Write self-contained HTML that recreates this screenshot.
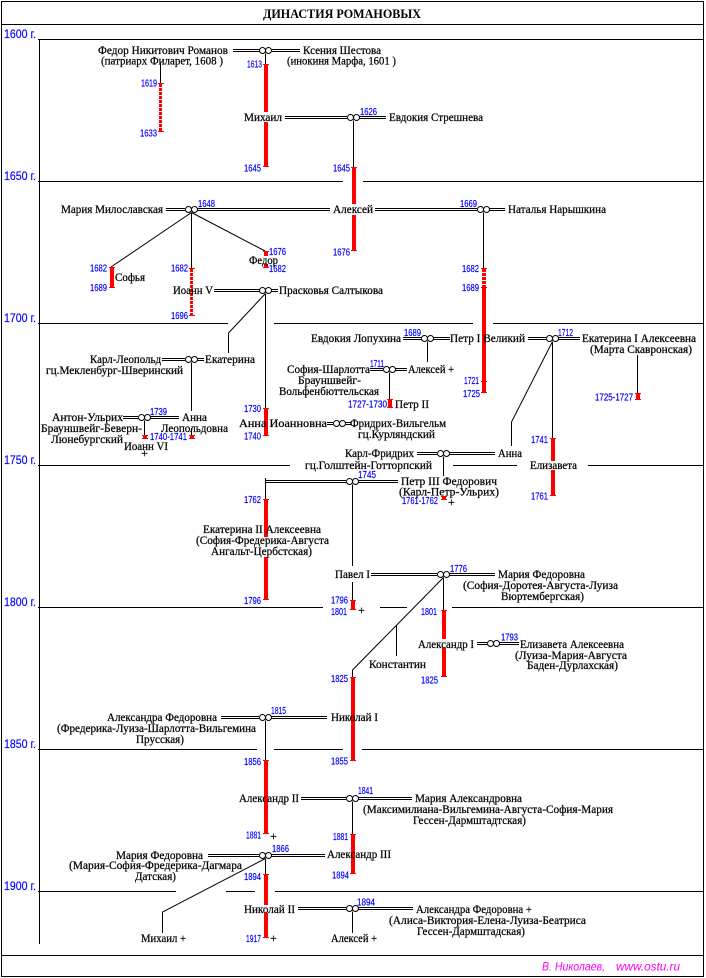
<!DOCTYPE html>
<html><head><meta charset="utf-8"><style>
html,body{margin:0;padding:0;background:#fff;width:706px;height:978px;overflow:hidden}
svg{display:block}
.t{font-family:"Liberation Serif","DejaVu Serif",serif;font-size:12px;fill:#000;stroke:#000;stroke-width:0.25}
.b{font-family:"Liberation Serif",serif;font-size:13px;font-weight:bold;fill:#000}
.n{font-family:"Liberation Sans",sans-serif;font-size:10px;fill:#00f;stroke:#00f;stroke-width:0.2}
.y{font-family:"Liberation Sans",sans-serif;font-size:12px;fill:#00f;stroke:#00f;stroke-width:0.15}
.f{font-family:"Liberation Sans",sans-serif;font-size:12px;font-style:italic;fill:#f0f}
.k{stroke:#000;stroke-width:1;fill:none}
.o circle{stroke:#000;stroke-width:1;fill:#fff}
.r rect{fill:#f00}
</style></head><body>
<svg width="706" height="978" viewBox="0 0 706 978" xmlns="http://www.w3.org/2000/svg">
<rect x="1.5" y="1.5" width="702" height="975" fill="none" stroke="#000"/>
<path class="k" shape-rendering="crispEdges" d="M1 24.5H704 M38 39.5H704 M39.5 39V944
M38 181.5H343 M363 181.5H704
M38 323.5H228 M274 323.5H473 M493 323.5H704
M38 465.5H290 M453 465.5H517 M588 465.5H704
M38 607.5H323 M380 607.5H407 M452 607.5H704
M38 749.5H257 M274 749.5H343 M362 749.5H704
M38 891.5H176 M226 891.5H255 M275 891.5H704
M1 955.5H704"/>
<!-- double lines -->
<path class="k" shape-rendering="crispEdges" d="
M233 49.5H260M233 51.5H260 M272 49.5H300M272 51.5H300
M285 116.5H347M285 118.5H347 M359 116.5H386M359 118.5H386
M166 208.5H185M166 210.5H185 M197 208.5H330M197 210.5H330
M375 208.5H477M375 210.5H477 M489 208.5H505M489 210.5H505
M214 289.5H260M214 291.5H260 M271 289.5H278M271 291.5H278
M403 337.5H422M403 339.5H422 M433 337.5H450M433 339.5H450
M528 337.5H546M528 339.5H546 M558 337.5H580M558 339.5H580
M162 358.5H185M162 360.5H185 M197 358.5H204M197 360.5H204
M370 368.5H383M370 370.5H383 M395 368.5H407M395 370.5H407
M123 416.5H138M123 418.5H138 M150 416.5H179M150 418.5H179
M327 422.5H333M327 424.5H333 M345 422.5H351M345 424.5H351
M417 452.5H437M417 454.5H437 M449 452.5H495M449 454.5H495
M266 480.5H346M266 482.5H346 M358 480.5H398M358 482.5H398
M371 573.5H437M371 575.5H437 M449 573.5H495M449 575.5H495
M477 642.5H487M477 644.5H487 M499 642.5H519M499 644.5H519
M221 716.5H259M221 718.5H259 M271 716.5H327M271 718.5H327
M301 797.5H346M301 799.5H346 M358 797.5H412M358 799.5H412
M208 854.5H259M208 856.5H259 M271 854.5H325M271 856.5H325
M298 907.5H346M298 909.5H346 M358 907.5H413M358 909.5H413"/>
<!-- connectors -->
<path class="k" d="
M265.5 53.5V64 M160.5 62V83 M353.5 120.5V167
M191.5 212.5V268 M191.5 212.5L111 267 M191.5 212.5L265 251
M483.5 212.5V268
M265.5 293.5V408 M265.5 293.5L228.5 333V353
M191.5 362.5V411 M191.5 428V435 M144.5 420.5V435
M427.5 341.5V362 M389.5 372.5V399 M637.5 355V393
M552.5 341.5V438 M552.5 341.5L511.5 422V446
M443.5 456.5V476
M265.5 478V499
M352.5 484.5V566 M352.5 582V600
M443.5 577.5V610 M443.5 577.5L352.5 670V677 M396.5 625V656
M265.5 720.5V760 M352.5 801.5V834
M265.5 858.5V874 M265.5 858.5L162.5 912V933 M352.5 911.5V933"/>
<!-- red bars -->
<g class="r" shape-rendering="crispEdges">
<rect x="158" y="83" width="6" height="1"/><rect x="158" y="131" width="6" height="1"/>
<rect x="264" y="64" width="4" height="48"/><rect x="264" y="122" width="4" height="45"/><rect x="263" y="64" width="6" height="1"/><rect x="263" y="166" width="6" height="1"/>
<rect x="352" y="167" width="4" height="37"/><rect x="352" y="215" width="4" height="36"/><rect x="351" y="167" width="6" height="1"/><rect x="351" y="250" width="6" height="1"/>
<rect x="110" y="267" width="4" height="21"/><rect x="109" y="267" width="6" height="1"/><rect x="109" y="287" width="6" height="1"/>
<rect x="189" y="268" width="6" height="1"/><rect x="189" y="315" width="6" height="1"/>
<rect x="264" y="251" width="4" height="5"/><rect x="264" y="264" width="4" height="4"/><rect x="263" y="251" width="6" height="1"/><rect x="263" y="267" width="6" height="1"/>
<rect x="482" y="287" width="4" height="106"/><rect x="481" y="268" width="6" height="1"/><rect x="481" y="287" width="6" height="1"/><rect x="481" y="381" width="6" height="1"/><rect x="481" y="392" width="6" height="1"/>
<rect x="264" y="408" width="4" height="28"/><rect x="263" y="408" width="6" height="1"/><rect x="263" y="435" width="6" height="1"/>
<rect x="143" y="435" width="4" height="4"/><rect x="142" y="435" width="6" height="1"/><rect x="142" y="438" width="6" height="1"/>
<rect x="190" y="435" width="4" height="4"/><rect x="189" y="435" width="6" height="1"/><rect x="189" y="438" width="6" height="1"/>
<rect x="388" y="399" width="4" height="9"/><rect x="387" y="399" width="6" height="1"/><rect x="387" y="407" width="6" height="1"/>
<rect x="636" y="393" width="4" height="7"/><rect x="635" y="393" width="6" height="1"/><rect x="635" y="399" width="6" height="1"/>
<rect x="551" y="438" width="4" height="23"/><rect x="551" y="470" width="4" height="26"/><rect x="550" y="438" width="6" height="1"/><rect x="550" y="495" width="6" height="1"/>
<rect x="442" y="496" width="4" height="4"/><rect x="441" y="496" width="6" height="1"/><rect x="441" y="499" width="6" height="1"/>
<rect x="264" y="499" width="4" height="38"/><rect x="264" y="557" width="4" height="43"/><rect x="263" y="499" width="6" height="1"/><rect x="263" y="599" width="6" height="1"/>
<rect x="351" y="600" width="4" height="10"/><rect x="350" y="600" width="6" height="1"/><rect x="350" y="609" width="6" height="1"/>
<rect x="442" y="610" width="4" height="29"/><rect x="442" y="648" width="4" height="29"/><rect x="441" y="610" width="6" height="1"/><rect x="441" y="676" width="6" height="1"/>
<rect x="351" y="677" width="4" height="84"/><rect x="350" y="677" width="6" height="1"/><rect x="350" y="760" width="6" height="1"/>
<rect x="264" y="760" width="4" height="74"/><rect x="263" y="760" width="6" height="1"/><rect x="263" y="833" width="6" height="1"/>
<rect x="351" y="834" width="4" height="40"/><rect x="350" y="834" width="6" height="1"/><rect x="350" y="873" width="6" height="1"/>
<rect x="264" y="874" width="4" height="31"/><rect x="264" y="913" width="4" height="25"/><rect x="263" y="874" width="6" height="1"/><rect x="263" y="937" width="6" height="1"/>
</g>
<g stroke="#f00" stroke-dasharray="3 1" fill="none">
<line x1="160.5" y1="84" x2="160.5" y2="131" stroke-width="3"/>
<line x1="191.5" y1="269" x2="191.5" y2="315" stroke-width="3"/>
<line x1="484" y1="269" x2="484" y2="287" stroke-width="4"/>
</g>
<!-- marriage symbols -->
<g class="o">
<circle cx="262.5" cy="50.5" r="3"/><circle cx="268.5" cy="50.5" r="3"/>
<circle cx="350.5" cy="117.5" r="3"/><circle cx="356.5" cy="117.5" r="3"/>
<circle cx="188.5" cy="209.5" r="3"/><circle cx="194.5" cy="209.5" r="3"/>
<circle cx="480.5" cy="209.5" r="3"/><circle cx="486.5" cy="209.5" r="3"/>
<circle cx="262.5" cy="290.5" r="3"/><circle cx="268.5" cy="290.5" r="3"/>
<circle cx="424.5" cy="338.5" r="3"/><circle cx="430.5" cy="338.5" r="3"/>
<circle cx="549.5" cy="338.5" r="3"/><circle cx="555.5" cy="338.5" r="3"/>
<circle cx="188.5" cy="359.5" r="3"/><circle cx="194.5" cy="359.5" r="3"/>
<circle cx="386.5" cy="369.5" r="3"/><circle cx="392.5" cy="369.5" r="3"/>
<circle cx="141.5" cy="417.5" r="3"/><circle cx="147.5" cy="417.5" r="3"/>
<circle cx="336.5" cy="423.5" r="3"/><circle cx="342.5" cy="423.5" r="3"/>
<circle cx="440.5" cy="453.5" r="3"/><circle cx="446.5" cy="453.5" r="3"/>
<circle cx="349.5" cy="481.5" r="3"/><circle cx="355.5" cy="481.5" r="3"/>
<circle cx="440.5" cy="574.5" r="3"/><circle cx="446.5" cy="574.5" r="3"/>
<circle cx="490.5" cy="643.5" r="3"/><circle cx="496.5" cy="643.5" r="3"/>
<circle cx="262.5" cy="717.5" r="3"/><circle cx="268.5" cy="717.5" r="3"/>
<circle cx="349.5" cy="798.5" r="3"/><circle cx="355.5" cy="798.5" r="3"/>
<circle cx="262.5" cy="855.5" r="3"/><circle cx="268.5" cy="855.5" r="3"/>
<circle cx="349.5" cy="908.5" r="3"/><circle cx="355.5" cy="908.5" r="3"/>
</g>
<!-- title -->
<text class="b" x="263" y="18" textLength="158" lengthAdjust="spacingAndGlyphs">ДИНАСТИЯ РОМАНОВЫХ</text>
<!-- year labels -->
<g class="y">
<text x="4" y="38" textLength="32" lengthAdjust="spacingAndGlyphs">1600 г.</text>
<text x="4" y="180" textLength="32" lengthAdjust="spacingAndGlyphs">1650 г.</text>
<text x="4" y="322" textLength="32" lengthAdjust="spacingAndGlyphs">1700 г.</text>
<text x="4" y="464" textLength="32" lengthAdjust="spacingAndGlyphs">1750 г.</text>
<text x="4" y="606" textLength="32" lengthAdjust="spacingAndGlyphs">1800 г.</text>
<text x="4" y="748" textLength="32" lengthAdjust="spacingAndGlyphs">1850 г.</text>
<text x="4" y="890" textLength="32" lengthAdjust="spacingAndGlyphs">1900 г.</text>
</g>
<!-- names -->
<g class="t">
<text x="98" y="54" textLength="130" lengthAdjust="spacingAndGlyphs">Федор Никитович Романов</text>
<text x="101" y="64.5" textLength="122" lengthAdjust="spacingAndGlyphs">(патриарх Филарет, 1608 )</text>
<text x="303" y="54" textLength="78" lengthAdjust="spacingAndGlyphs">Ксения Шестова</text>
<text x="287" y="64.5" textLength="109" lengthAdjust="spacingAndGlyphs">(инокиня Марфа, 1601 )</text>
<text x="244" y="121" textLength="38" lengthAdjust="spacingAndGlyphs">Михаил</text>
<text x="389" y="121" textLength="94" lengthAdjust="spacingAndGlyphs">Евдокия Стрешнева</text>
<text x="61" y="213" textLength="102" lengthAdjust="spacingAndGlyphs">Мария Милославская</text>
<text x="333" y="213" textLength="40" lengthAdjust="spacingAndGlyphs">Алексей</text>
<text x="508" y="213" textLength="98" lengthAdjust="spacingAndGlyphs">Наталья Нарышкина</text>
<text x="115" y="281" textLength="30" lengthAdjust="spacingAndGlyphs">Софья</text>
<text x="249" y="264" textLength="29" lengthAdjust="spacingAndGlyphs">Федор</text>
<text x="173" y="294" textLength="40" lengthAdjust="spacingAndGlyphs">Иоанн V</text>
<text x="279" y="294" textLength="104" lengthAdjust="spacingAndGlyphs">Прасковья Салтыкова</text>
<text x="311" y="342" textLength="90" lengthAdjust="spacingAndGlyphs">Евдокия Лопухина</text>
<text x="450" y="342" textLength="75" lengthAdjust="spacingAndGlyphs">Петр I Великий</text>
<text x="582" y="342" textLength="114" lengthAdjust="spacingAndGlyphs">Екатерина I Алексеевна</text>
<text x="590" y="353" textLength="102" lengthAdjust="spacingAndGlyphs">(Марта Скавронская)</text>
<text x="90" y="363" textLength="71" lengthAdjust="spacingAndGlyphs">Карл-Леопольд</text>
<text x="205" y="363" textLength="50" lengthAdjust="spacingAndGlyphs">Екатерина</text>
<text x="46" y="374" textLength="137" lengthAdjust="spacingAndGlyphs">гц.Мекленбург-Шверинский</text>
<text x="287" y="373" textLength="83" lengthAdjust="spacingAndGlyphs">София-Шарлотта</text>
<text x="408" y="373" textLength="46" lengthAdjust="spacingAndGlyphs">Алексей +</text>
<text x="298" y="384" textLength="63" lengthAdjust="spacingAndGlyphs">Брауншвейг-</text>
<text x="279" y="395" textLength="100" lengthAdjust="spacingAndGlyphs">Вольфенбюттельская</text>
<text x="395" y="408" textLength="34" lengthAdjust="spacingAndGlyphs">Петр II</text>
<text x="52" y="421" textLength="71" lengthAdjust="spacingAndGlyphs">Антон-Ульрих</text>
<text x="182" y="421" textLength="25" lengthAdjust="spacingAndGlyphs">Анна</text>
<text x="41" y="432" textLength="101" lengthAdjust="spacingAndGlyphs">Брауншвейг-Беверн-</text>
<text x="161" y="432" textLength="67" lengthAdjust="spacingAndGlyphs">Леопольдовна</text>
<text x="51" y="443" textLength="72" lengthAdjust="spacingAndGlyphs">Люнебургский</text>
<text x="124" y="450" textLength="44" lengthAdjust="spacingAndGlyphs">Иоанн VI</text>
<text x="141" y="457">+</text>
<text x="239" y="427" textLength="88" lengthAdjust="spacingAndGlyphs">Анна Иоанновна</text>
<text x="350" y="427" textLength="96" lengthAdjust="spacingAndGlyphs">Фридрих-Вильгельм</text>
<text x="358" y="438" textLength="77" lengthAdjust="spacingAndGlyphs">гц.Курляндский</text>
<text x="345" y="457" textLength="69" lengthAdjust="spacingAndGlyphs">Карл-Фридрих</text>
<text x="498" y="457" textLength="24" lengthAdjust="spacingAndGlyphs">Анна</text>
<text x="305" y="469" textLength="127" lengthAdjust="spacingAndGlyphs">гц.Голштейн-Готторпский</text>
<text x="530" y="469" textLength="47" lengthAdjust="spacingAndGlyphs">Елизавета</text>
<text x="401" y="485" textLength="96" lengthAdjust="spacingAndGlyphs">Петр III Федорович</text>
<text x="399" y="495.5" textLength="100" lengthAdjust="spacingAndGlyphs">(Карл-Петр-Ульрих)</text>
<text x="448" y="506">+</text>
<text x="203" y="533" textLength="118" lengthAdjust="spacingAndGlyphs">Екатерина II Алексеевна</text>
<text x="196" y="544" textLength="133" lengthAdjust="spacingAndGlyphs">(София-Фредерика-Августа</text>
<text x="211" y="555" textLength="101" lengthAdjust="spacingAndGlyphs">Ангальт-Цербстская)</text>
<text x="335" y="578" textLength="35" lengthAdjust="spacingAndGlyphs">Павел I</text>
<text x="498" y="578" textLength="87" lengthAdjust="spacingAndGlyphs">Мария Федоровна</text>
<text x="463" y="589" textLength="155" lengthAdjust="spacingAndGlyphs">(София-Доротея-Августа-Луиза</text>
<text x="501" y="600" textLength="83" lengthAdjust="spacingAndGlyphs">Вюртембергская)</text>
<text x="358" y="614">+</text>
<text x="418" y="648" textLength="56" lengthAdjust="spacingAndGlyphs">Александр I</text>
<text x="520" y="648" textLength="104" lengthAdjust="spacingAndGlyphs">Елизавета Алексеевна</text>
<text x="515" y="659" textLength="112" lengthAdjust="spacingAndGlyphs">(Луиза-Мария-Августа</text>
<text x="527" y="669" textLength="91" lengthAdjust="spacingAndGlyphs">Баден-Дурлахская)</text>
<text x="369" y="668" textLength="57" lengthAdjust="spacingAndGlyphs">Константин</text>
<text x="107" y="721" textLength="110" lengthAdjust="spacingAndGlyphs">Александра Федоровна</text>
<text x="331" y="721" textLength="47" lengthAdjust="spacingAndGlyphs">Николай I</text>
<text x="57" y="732" textLength="199" lengthAdjust="spacingAndGlyphs">(Фредерика-Луиза-Шарлотта-Вильгемина</text>
<text x="136" y="743" textLength="48" lengthAdjust="spacingAndGlyphs">Прусская)</text>
<text x="270" y="840">+</text>
<text x="239" y="802" textLength="60" lengthAdjust="spacingAndGlyphs">Александр II</text>
<text x="415" y="802" textLength="107" lengthAdjust="spacingAndGlyphs">Мария Александровна</text>
<text x="363" y="813" textLength="250" lengthAdjust="spacingAndGlyphs">(Максимилиана-Вильгемина-Августа-София-Мария</text>
<text x="413" y="824" textLength="113" lengthAdjust="spacingAndGlyphs">Гессен-Дармштадтская)</text>
<text x="116" y="859" textLength="87" lengthAdjust="spacingAndGlyphs">Мария Федоровна</text>
<text x="327" y="858" textLength="64" lengthAdjust="spacingAndGlyphs">Александр III</text>
<text x="69" y="869" textLength="173" lengthAdjust="spacingAndGlyphs">(Мария-София-Фредерика-Дагмара</text>
<text x="135" y="880" textLength="41" lengthAdjust="spacingAndGlyphs">Датская)</text>
<text x="270" y="942">+</text>
<text x="244" y="913" textLength="51" lengthAdjust="spacingAndGlyphs">Николай II</text>
<text x="416" y="913" textLength="116" lengthAdjust="spacingAndGlyphs">Александра Федоровна +</text>
<text x="389" y="924" textLength="197" lengthAdjust="spacingAndGlyphs">(Алиса-Виктория-Елена-Луиза-Беатриса</text>
<text x="417" y="935" textLength="108" lengthAdjust="spacingAndGlyphs">Гессен-Дармштадская)</text>
<text x="141" y="942" textLength="45" lengthAdjust="spacingAndGlyphs">Михаил +</text>
<text x="331" y="942" textLength="46" lengthAdjust="spacingAndGlyphs">Алексей +</text>
</g>
<!-- year numbers -->
<g class="n">
<text x="141" y="86.5" textLength="16" lengthAdjust="spacingAndGlyphs">1619</text>
<text x="140" y="136.5" textLength="17" lengthAdjust="spacingAndGlyphs">1633</text>
<text x="247" y="67.5" textLength="15" lengthAdjust="spacingAndGlyphs">1613</text>
<text x="244" y="171.5" textLength="17" lengthAdjust="spacingAndGlyphs">1645</text>
<text x="360" y="115" textLength="17" lengthAdjust="spacingAndGlyphs">1626</text>
<text x="333" y="171.5" textLength="17" lengthAdjust="spacingAndGlyphs">1645</text>
<text x="333" y="255.5" textLength="17" lengthAdjust="spacingAndGlyphs">1676</text>
<text x="198" y="207" textLength="17" lengthAdjust="spacingAndGlyphs">1648</text>
<text x="460" y="207" textLength="17" lengthAdjust="spacingAndGlyphs">1669</text>
<text x="90" y="271.5" textLength="17" lengthAdjust="spacingAndGlyphs">1682</text>
<text x="90" y="291" textLength="17" lengthAdjust="spacingAndGlyphs">1689</text>
<text x="171" y="271.5" textLength="17" lengthAdjust="spacingAndGlyphs">1682</text>
<text x="171" y="319" textLength="17" lengthAdjust="spacingAndGlyphs">1696</text>
<text x="269" y="255" textLength="17" lengthAdjust="spacingAndGlyphs">1676</text>
<text x="269" y="272" textLength="17" lengthAdjust="spacingAndGlyphs">1682</text>
<text x="462" y="272" textLength="17" lengthAdjust="spacingAndGlyphs">1682</text>
<text x="462" y="291" textLength="17" lengthAdjust="spacingAndGlyphs">1689</text>
<text x="404" y="336" textLength="17" lengthAdjust="spacingAndGlyphs">1689</text>
<text x="558" y="336" textLength="15" lengthAdjust="spacingAndGlyphs">1712</text>
<text x="370" y="367" textLength="14" lengthAdjust="spacingAndGlyphs">1711</text>
<text x="464" y="384" textLength="15" lengthAdjust="spacingAndGlyphs">1721</text>
<text x="463" y="397" textLength="17" lengthAdjust="spacingAndGlyphs">1725</text>
<text x="348" y="407.5" textLength="39" lengthAdjust="spacingAndGlyphs">1727-1730</text>
<text x="595" y="400.5" textLength="38" lengthAdjust="spacingAndGlyphs">1725-1727</text>
<text x="244" y="412" textLength="17" lengthAdjust="spacingAndGlyphs">1730</text>
<text x="244" y="439.5" textLength="17" lengthAdjust="spacingAndGlyphs">1740</text>
<text x="150" y="415" textLength="17" lengthAdjust="spacingAndGlyphs">1739</text>
<text x="150" y="440" textLength="37" lengthAdjust="spacingAndGlyphs">1740-1741</text>
<text x="531" y="443" textLength="17" lengthAdjust="spacingAndGlyphs">1741</text>
<text x="531" y="499.5" textLength="17" lengthAdjust="spacingAndGlyphs">1761</text>
<text x="358" y="478" textLength="18" lengthAdjust="spacingAndGlyphs">1745</text>
<text x="402" y="504" textLength="36" lengthAdjust="spacingAndGlyphs">1761-1762</text>
<text x="244" y="503" textLength="17" lengthAdjust="spacingAndGlyphs">1762</text>
<text x="244" y="604" textLength="17" lengthAdjust="spacingAndGlyphs">1796</text>
<text x="450" y="572" textLength="17" lengthAdjust="spacingAndGlyphs">1776</text>
<text x="331" y="603.5" textLength="17" lengthAdjust="spacingAndGlyphs">1796</text>
<text x="331" y="615" textLength="16" lengthAdjust="spacingAndGlyphs">1801</text>
<text x="421" y="615" textLength="16" lengthAdjust="spacingAndGlyphs">1801</text>
<text x="501" y="640.5" textLength="17" lengthAdjust="spacingAndGlyphs">1793</text>
<text x="421" y="683.5" textLength="17" lengthAdjust="spacingAndGlyphs">1825</text>
<text x="331" y="682" textLength="17" lengthAdjust="spacingAndGlyphs">1825</text>
<text x="271" y="714" textLength="15" lengthAdjust="spacingAndGlyphs">1815</text>
<text x="244" y="765" textLength="17" lengthAdjust="spacingAndGlyphs">1856</text>
<text x="331" y="764.5" textLength="17" lengthAdjust="spacingAndGlyphs">1855</text>
<text x="246" y="838.5" textLength="15" lengthAdjust="spacingAndGlyphs">1881</text>
<text x="358" y="794" textLength="15" lengthAdjust="spacingAndGlyphs">1841</text>
<text x="333" y="840" textLength="15" lengthAdjust="spacingAndGlyphs">1881</text>
<text x="332" y="878.5" textLength="17" lengthAdjust="spacingAndGlyphs">1894</text>
<text x="272" y="852" textLength="17" lengthAdjust="spacingAndGlyphs">1866</text>
<text x="244" y="880" textLength="17" lengthAdjust="spacingAndGlyphs">1894</text>
<text x="246" y="942" textLength="15" lengthAdjust="spacingAndGlyphs">1917</text>
<text x="357" y="905.5" textLength="18" lengthAdjust="spacingAndGlyphs">1894</text>
</g>
<!-- footer -->
<text class="f" x="542" y="970.5" textLength="63" lengthAdjust="spacingAndGlyphs">В. Николаев,</text>
<text class="f" x="616" y="970.5" textLength="64" lengthAdjust="spacingAndGlyphs">www.ostu.ru</text>
</svg>
</body></html>
